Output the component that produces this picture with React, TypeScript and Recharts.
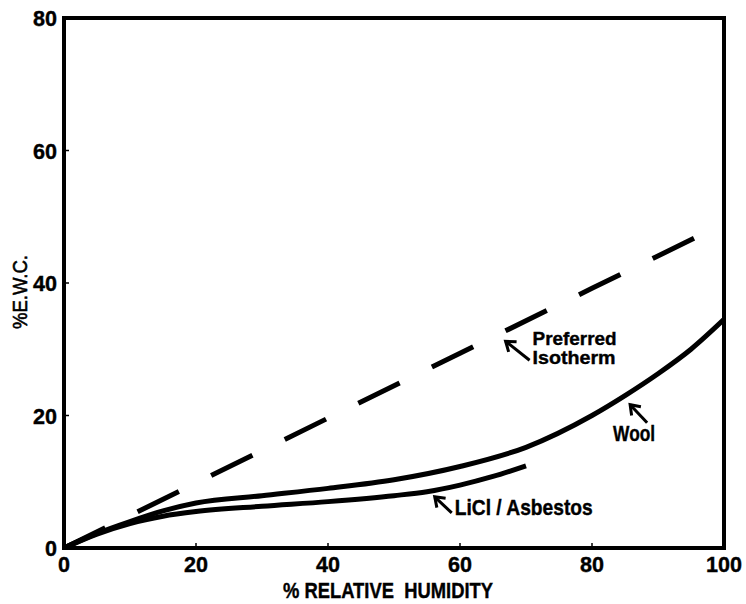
import { LineChart, Line, XAxis, YAxis, ReferenceArea, ReferenceDot, Label } from 'recharts'

const FONT = '"Liberation Sans", Arial, sans-serif'

const RH_TICKS = [0, 20, 40, 60, 80, 100]
const EWC_TICKS = [0, 20, 40, 60, 80]

// preferred isotherm (dashed, nearly straight)
const isoRh = [0, 20, 40, 60, 80, 97]
const isoEwc = [0, 9.8, 19.6, 29.4, 39.2, 47.5]

// wool
const woolRh = [0, 5, 10, 15, 20, 30, 40, 50, 60, 70, 80, 85, 90, 95, 100]
const woolEwc = [0, 2.2, 4.0, 5.6, 6.8, 7.9, 9.0, 10.3, 12.3, 15.2, 20.0, 23.0, 26.3, 30.0, 34.5]

// LiCl / asbestos
const liclRh = [0, 5, 10, 15, 20, 30, 40, 50, 55, 60, 65, 70]
const liclEwc = [0, 2.1, 3.7, 4.8, 5.5, 6.3, 7.0, 7.9, 8.5, 9.5, 10.8, 12.4]

const zip = (xs: number[], ys: number[]) => xs.map((rh, i) => ({ rh, ewc: ys[i] }))
const isoData = zip(isoRh, isoEwc)
const woolData = zip(woolRh, woolEwc)
const liclData = zip(liclRh, liclEwc)

const axisLine = { stroke: '#000', strokeWidth: 4 }
const tickLine = { stroke: '#000', strokeWidth: 1.5 }

// condensed bold text: squeeze the glyphs to a target width
function Narrow({ w, children, ...rest }: any) {
  return (
    <text fill="#000" stroke="#000" strokeWidth={0.4} fontFamily={FONT} fontWeight={700}
      textLength={w} lengthAdjust="spacingAndGlyphs" {...rest}>
      {children}
    </text>
  )
}

function XTick({ x, y, payload }: any) {
  const s = String(payload.value)
  return <Narrow x={x} y={y} dy="0.71em" textAnchor="middle" fontSize={22} w={s.length * 12}>{s}</Narrow>
}

function YTick({ x, y, payload }: any) {
  const s = String(payload.value)
  return <Narrow x={x} y={y} dy="0.38em" textAnchor="end" fontSize={22} w={s.length * 12}>{s}</Narrow>
}

function Arrow({ x1, y1, x2, y2 }: { x1: number; y1: number; x2: number; y2: number }) {
  // tip at x1,y1 ; tail at x2,y2
  const dx = x2 - x1, dy = y2 - y1
  const len = Math.hypot(dx, dy)
  const ux = dx / len, uy = dy / len
  const a = 0.62, L = 11
  const r = (ang: number) => [x1 + L * (ux * Math.cos(ang) - uy * Math.sin(ang)), y1 + L * (ux * Math.sin(ang) + uy * Math.cos(ang))]
  const [ax, ay] = r(a)
  const [bx, by] = r(-a)
  return (
    <g stroke="#000" strokeWidth={3} fill="none">
      <line x1={x1} y1={y1} x2={x2} y2={y2} />
      <path d={`M${ax},${ay} L${x1},${y1} L${bx},${by}`} />
    </g>
  )
}

function PreferredNote({ cx, cy }: any) {
  return (
    <g>
      <Arrow x1={cx - 27} y1={cy - 4} x2={cx - 3} y2={cy + 15} />
      <Narrow x={cx} y={cy} fontSize={19} w={84}>Preferred</Narrow>
      <Narrow x={cx} y={cy + 19} fontSize={19} w={83}>Isotherm</Narrow>
    </g>
  )
}

function WoolNote({ cx, cy }: any) {
  return (
    <g>
      <Arrow x1={cx + 17} y1={cy - 36} x2={cx + 34} y2={cy - 18} />
      <Narrow x={cx} y={cy} fontSize={22} w={42}>Wool</Narrow>
    </g>
  )
}

function LiclNote({ cx, cy }: any) {
  return (
    <g>
      <Arrow x1={cx - 20} y1={cy - 18} x2={cx - 3} y2={cy - 2} />
      <Narrow x={cx} y={cy} fontSize={22} w={138}>LiCl / Asbestos</Narrow>
    </g>
  )
}

function XTitle({ viewBox }: any) {
  const cx = viewBox.x + viewBox.width / 2 - 6
  return (
    <Narrow x={cx} y={viewBox.y + 50} textAnchor="middle" fontSize={22} w={210} style={{ whiteSpace: 'pre' }}>
      {'% RELATIVE  HUMIDITY'}
    </Narrow>
  )
}

function YTitle({ viewBox }: any) {
  const x = 19
  const y = viewBox.y + viewBox.height / 2 + 9
  return (
    <text x={x} y={y} textAnchor="middle" dominantBaseline="central" transform={`rotate(-90, ${x}, ${y})`}
      fill="#000" stroke="#000" strokeWidth={0.6} fontSize={21} fontFamily={FONT} textLength={74} lengthAdjust="spacingAndGlyphs">
      %E.W.C.
    </text>
  )
}

export default function App() {
  return (
    <div style={{ position: 'absolute', left: 0, top: 0, width: 746, height: 604, background: '#fff' }}>
      <LineChart width={746} height={604} margin={{ top: 18, right: 22, bottom: 0, left: 0 }}>
        <XAxis
          type="number" dataKey="rh" domain={[0, 100]} ticks={RH_TICKS} interval={0} allowDataOverflow
          height={56} axisLine={axisLine} tickLine={tickLine} tickSize={-5} tickMargin={13} tick={<XTick />}
        >
          <Label content={XTitle} />
        </XAxis>
        <YAxis
          type="number" dataKey="ewc" domain={[0, 80]} ticks={EWC_TICKS} interval={0} allowDataOverflow
          width={64} axisLine={axisLine} tickLine={tickLine} tickSize={-5} tickMargin={12} tick={<YTick />}
        >
          <Label content={YTitle} />
        </YAxis>
        <ReferenceArea x1={0} x2={100} y1={0} y2={80} fill="none" stroke="#000" strokeWidth={4} fillOpacity={0} />
        <Line data={isoData} dataKey="ewc" type="linear" stroke="#000" strokeWidth={5} strokeDasharray="46 36" dot={false} activeDot={false} isAnimationActive={false} />
        <Line data={woolData} dataKey="ewc" type="monotone" stroke="#000" strokeWidth={5} dot={false} activeDot={false} isAnimationActive={false} />
        <Line data={liclData} dataKey="ewc" type="monotone" stroke="#000" strokeWidth={5} dot={false} activeDot={false} isAnimationActive={false} />
        <ReferenceDot x={71} y={30.6} r={0} shape={PreferredNote} />
        <ReferenceDot x={83.2} y={16.2} r={0} shape={WoolNote} />
        <ReferenceDot x={59.2} y={5} r={0} shape={LiclNote} />
      </LineChart>
    </div>
  )
}
